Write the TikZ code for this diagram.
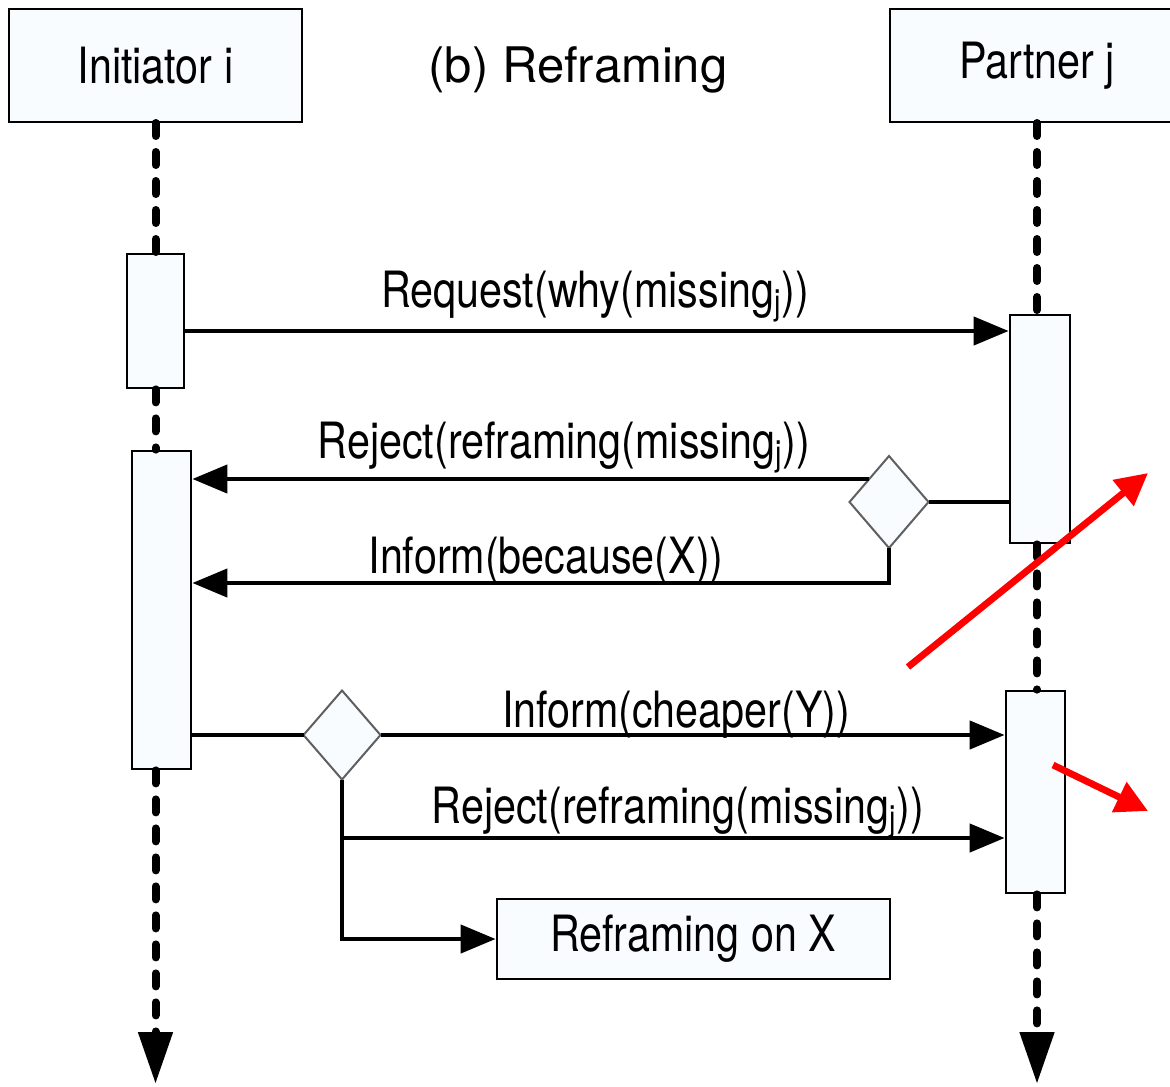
\documentclass[tikz,border=0pt]{standalone}
\usepackage{fontspec}
\setmainfont{TeX Gyre Heros}
\newfontfamily\narrowfont[FakeStretch=0.825]{TeX Gyre Heros}
\usetikzlibrary{arrows.meta,shapes.geometric,fit}
\definecolor{boxfill}{RGB}{248,252,255}
\definecolor{diamondedge}{RGB}{95,95,95}

\begin{document}
\begin{tikzpicture}[x=0.5pt,y=-0.5pt,
  lbl/.style={font=\narrowfont\fontsize{25}{30}\selectfont, inner sep=0, anchor=base},
  actor/.style={draw, line width=1.4pt, fill=boxfill, inner sep=0},
  act/.style={draw, line width=1.4pt, fill=boxfill, inner sep=0},
  choice/.style={diamond, draw=diamondedge, line width=1pt, fill=boxfill, inner sep=0, outer sep=0},
  msg/.style={line width=2.2pt, -{Triangle[length=17.5pt,width=14pt]}},
  wire/.style={line width=2.2pt},
  life/.style={line width=4pt, line cap=round, dash pattern=on 6.5pt off 8pt},
  lifeend/.style={life, -{Triangle[length=26pt,width=16.5pt]}},
  note/.style={draw=red, line width=3.4pt, -{Triangle[length=16pt,width=16pt]}}
]
\useasboundingbox (0,0) rectangle (1170,1086);
\clip (0,0) rectangle (1170,1086);

% participants
\node[actor, fit={(9,9) (302,122)}] (I) {};
\node[lbl, anchor=center] (Itext) at (I.center) {Initiator i};
\node[actor, fit={(890,9) (1190,122)}] (J) {};
\node[lbl, anchor=center] (Jtext) at (1037,66) {Partner j};
\node[font=\fontsize{24.5}{28}\selectfont, inner sep=0, anchor=base] (title) at (578,83) {(b) Reframing};

% lifeline anchors
\coordinate (itop) at (155.5,123);
\coordinate (iend) at (155.5,1084);
\coordinate (jtop) at (1037,123);
\coordinate (jend) at (1037,1084);

% activation bars
\node[act, fit={(127,254) (184,388)}] (A1) {};
\node[act, fit={(132,451) (191,769)}] (A2) {};
\node[act, fit={(1010,315) (1070,543)}] (B1) {};
\node[act, fit={(1006,691) (1065,893)}] (B2) {};

% lifelines
\draw[life] (itop) -- (itop |- A1.north);
\draw[life] (itop |- A1.south) -- (itop |- A2.north);
\draw[lifeend] (itop |- A2.south) -- (iend);
\draw[life] (jtop) -- (jtop |- B1.north);
\draw[life] (jtop |- B1.south) -- (jtop |- B2.north);
\draw[lifeend] (jtop |- B2.south) -- (jend);

% decision points
\node[choice, minimum width=39.5pt, minimum height=46pt] (D1) at (889,502) {};
\node[choice, minimum width=38.5pt, minimum height=44.5pt] (D2) at (342,735) {};

% outcome box
\node[act, fit={(497,899) (890,979)}] (R) {};
\node[lbl, anchor=center] (Rtext) at (693,939) {Reframing on X};

% message levels
\coordinate (y1) at (0,331);
\coordinate (y3) at (0,583);
\coordinate (y5) at (0,838);

% messages
\draw[msg] (A1.east |- y1) -- (B1.west |- y1);
\draw[wire] (B1.west |- D1.east) -- (D1.east);
\draw[msg] (D1.north west) -- (A2.east |- D1.north west);
\draw[msg] (D1.south) |- (A2.east |- y3);
\draw[wire] (A2.east |- D2.west) -- (D2.west);
\draw[msg] (D2.east) -- (B2.west |- D2.east);
\draw[msg] (D2.south |- y5) -- (B2.west |- y5);
\draw[msg] (D2.south) |- (R.west);

% message labels
\node[lbl] (L1) at (595,307) {Request(why(missing\textsubscript{j}))};
\node[lbl] (L2) at (564,458) {Reject(reframing(missing\textsubscript{j}))};
\node[lbl] (L3) at (546,573) {Inform(because(X))};
\node[lbl] (L4) at (676,727) {Inform(cheaper(Y))};
\node[lbl] (L5) at (678,823) {Reject(reframing(missing\textsubscript{j}))};

% red pointers
\coordinate (r1s) at (908,667);
\coordinate (r1e) at (1148,473);
\coordinate (r2s) at (1053,765);
\coordinate (r2e) at (1148,811);
\draw[note] (r1s) -- (r1e);
\draw[note] (r2s) -- (r2e);
\end{tikzpicture}
\end{document}
